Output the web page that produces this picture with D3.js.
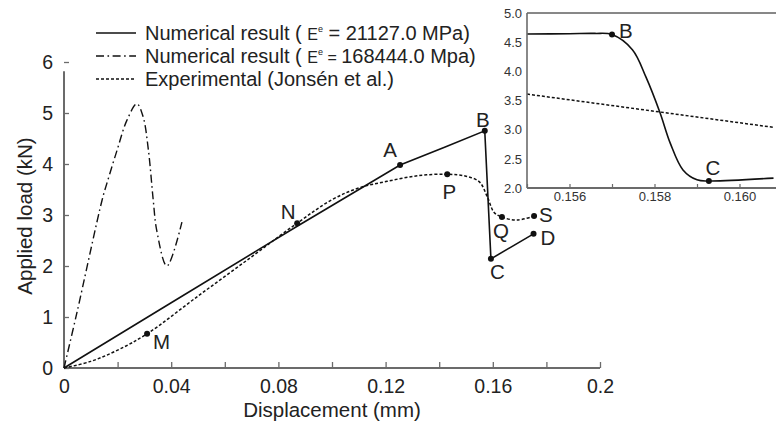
<!DOCTYPE html>
<html>
<head>
<meta charset="utf-8">
<script src="https://cdn.jsdelivr.net/npm/d3@7"></script>
<style>
  html, body { margin: 0; padding: 0; background: #fff; }
  svg { display: block; font-family: "Liberation Sans", Arial, sans-serif; }
</style>
</head>
<body>
<svg id="chart" width="776" height="430"></svg>
<script>
// ---- data: load (kN) vs displacement (mm) ----
// Numerical result, E^e = 21127.0 MPa
const solidX = [0, 0.04, 0.087, 0.1254, 0.142, 0.157, 0.1593, 0.1752];
const solidY = [0, 1.28, 2.78, 3.98, 4.33, 4.65, 2.14, 2.63];

// Numerical result, E^e = 168444.0 MPa
const stiffX = [0, 0.0048, 0.0142, 0.016, 0.0198, 0.0235, 0.0272, 0.0295, 0.0315, 0.0333, 0.0346, 0.0384, 0.044];
const stiffY = [0, 1.08, 3.29, 3.62, 4.27, 4.86, 5.18, 4.93, 4.27, 3.29, 2.7, 2.0, 2.86];

// Experimental (Jonsén et al.)
const expX = [0, 0.01, 0.02, 0.031, 0.05, 0.07, 0.087, 0.1, 0.11, 0.1205, 0.132, 0.143, 0.15, 0.155, 0.158, 0.1605, 0.1634, 0.169, 0.1754];
const expY = [0, 0.13, 0.35, 0.67, 1.41, 2.18, 2.84, 3.3, 3.53, 3.66, 3.77, 3.8, 3.76, 3.65, 3.35, 3.05, 2.96, 2.9, 2.98];

// Marked points on the curves
const markNames = ["M", "N", "P", "Q", "S", "A", "B", "C", "D"];
const markX = [0.031, 0.087, 0.143, 0.1634, 0.1754, 0.1254, 0.157, 0.1593, 0.1752];
const markY = [0.67, 2.84, 3.8, 2.96, 2.98, 3.98, 4.65, 2.14, 2.63];

// Axis ticks
const xTickValues = [0, 0.02, 0.04, 0.06, 0.08, 0.1, 0.12, 0.14, 0.16, 0.18, 0.2];
const xTickLabels = ["0", "", "0.04", "", "0.08", "", "0.12", "", "0.16", "", "0.2"];
const yTickValues = [0, 1, 2, 3, 4, 5, 6];

// Inset: detail of the drop between B and C
const insetSolidX = [0.155, 0.156, 0.1566, 0.157, 0.15748, 0.1578, 0.15813, 0.15837, 0.15867, 0.159, 0.15928, 0.1608];
const insetSolidY = [4.64, 4.645, 4.65, 4.63, 4.37, 3.9, 3.29, 2.77, 2.31, 2.14, 2.12, 2.17];
const insetExpX = [0.155, 0.1608];
const insetExpY = [3.61, 3.04];
const insetMarkNames = ["B", "C"];
const insetMarkX = [0.157, 0.15928];
const insetMarkY = [4.63, 2.12];
const insetXTicks = [0.155, 0.156, 0.157, 0.158, 0.159, 0.16, 0.161];
const insetXLabels = { "0.156": "0.156", "0.158": "0.158", "0.16": "0.160" };
const insetYTicks = [2.0, 2.5, 3.0, 3.5, 4.0, 4.5, 5.0];

// ---- drawing ----
const svg = d3.select("#chart");
const axisColor = "#6b6b6b";
const textColor = "#222";
const labelSize = 19.5;
const titleSize = 20.5;
const legendSize = 20;

const x = d3.scaleLinear().domain([0, 0.2]).range([64, 600]);
const y = d3.scaleLinear().domain([0, 6]).range([368, 62]);

const zip = (xs, ys) => xs.map((v, i) => [v, ys[i]]);

// x axis
const xAxis = d3.axisBottom(x).tickValues(xTickValues).tickSize(-6).tickPadding(11)
  .tickFormat((d, i) => xTickLabels[i]);
const gx = svg.append("g").attr("transform", `translate(0,${y(0)})`).call(xAxis);
gx.select(".domain").remove();
gx.append("line").attr("x1", x(0)).attr("x2", x(0.2)).attr("y1", 0).attr("y2", 0)
  .attr("stroke", axisColor).attr("stroke-width", 2);
gx.selectAll(".tick line").attr("stroke", axisColor).attr("stroke-width", 1.3);
gx.selectAll(".tick text").attr("fill", textColor).attr("font-size", labelSize).attr("dy", "0.71em");

// y axis
const yAxis = d3.axisLeft(y).tickValues(yTickValues).tickSize(-5).tickPadding(11)
  .tickFormat(d3.format("d"));
const gy = svg.append("g").attr("transform", `translate(${x(0)},0)`).call(yAxis);
gy.select(".domain").remove();
gy.append("line").attr("x1", 0).attr("x2", 0).attr("y1", y(0)).attr("y2", y(5.82))
  .attr("stroke", axisColor).attr("stroke-width", 2);
gy.selectAll(".tick line").attr("stroke", axisColor).attr("stroke-width", 1.3);
gy.selectAll(".tick text").attr("fill", textColor).attr("font-size", labelSize);

// axis titles
svg.append("text").attr("x", 332).attr("y", 417).attr("text-anchor", "middle")
  .attr("font-size", titleSize).attr("fill", textColor).text("Displacement (mm)");
svg.append("text").attr("transform", "translate(32,216) rotate(-90)").attr("text-anchor", "middle")
  .attr("font-size", titleSize).attr("fill", textColor).text("Applied load (kN)");

// curves
const line = d3.line().x(d => x(d[0])).y(d => y(d[1]));
svg.append("path").datum(zip(stiffX, stiffY))
  .attr("d", line.curve(d3.curveCatmullRom.alpha(0.5)))
  .attr("fill", "none").attr("stroke", "#111").attr("stroke-width", 1.4)
  .attr("stroke-dasharray", "8,3.5,1.6,3.5");
svg.append("path").datum(zip(expX, expY))
  .attr("d", line.curve(d3.curveCatmullRom.alpha(0.5)))
  .attr("fill", "none").attr("stroke", "#111").attr("stroke-width", 1.5)
  .attr("stroke-dasharray", "3,2");
svg.append("path").datum(zip(solidX, solidY))
  .attr("d", line.curve(d3.curveLinear))
  .attr("fill", "none").attr("stroke", "#111").attr("stroke-width", 1.6);

// marked points and their letters
const markOffsets = {
  M: [6, 15, "start"], N: [-9, -4, "middle"], P: [2, 25, "middle"], Q: [-1, 21, "middle"],
  S: [5, 6, "start"], A: [-10, -8, "middle"], B: [-2, -4, "middle"], C: [-1, 20, "start"], D: [7, 11, "start"]
};
const marks = markNames.map((n, i) => ({ n, v: [markX[i], markY[i]] }));
svg.append("g").selectAll("circle").data(marks).join("circle")
  .attr("cx", d => x(d.v[0])).attr("cy", d => y(d.v[1])).attr("r", 3).attr("fill", "#111");
svg.append("g").selectAll("text").data(marks).join("text")
  .attr("x", d => x(d.v[0]) + markOffsets[d.n][0])
  .attr("y", d => y(d.v[1]) + markOffsets[d.n][1])
  .attr("text-anchor", d => markOffsets[d.n][2])
  .attr("font-size", titleSize).attr("fill", textColor).text(d => d.n);

// legend
const legend = svg.append("g").attr("font-size", legendSize).attr("fill", textColor);
const legendRows = [
  { dash: null, pre: "Numerical result ( ", eq: " = ", val: "21127.0 MPa)" },
  { dash: "8,3.5,1.6,3.5", pre: "Numerical result ( ", eq: " = ", val: "168444.0 Mpa)" },
  { dash: "3,2", pre: "Experimental (Jonsén et al.)", eq: null, val: null }
];
legendRows.forEach((r, i) => {
  const ly = 33 + i * 23;
  legend.append("line").attr("x1", 96).attr("x2", 136).attr("y1", ly).attr("y2", ly)
    .attr("stroke", "#111").attr("stroke-width", 1.5).attr("stroke-dasharray", r.dash);
  const t = legend.append("text").attr("x", 145).attr("y", ly + 7);
  t.append("tspan").text(r.pre);
  if (r.val !== null) {
    t.append("tspan").attr("font-size", 16).text("E");
    t.append("tspan").attr("font-size", 9).attr("dy", -8).text("e");
    t.append("tspan").attr("dy", 8).attr("font-size", i === 1 ? 16 : legendSize).text(r.eq);
    t.append("tspan").text(r.val);
  }
});

// ---- inset ----
const ix = d3.scaleLinear().domain([0.155, 0.161]).range([527, 782]);
const iy = d3.scaleLinear().domain([2, 5]).range([188, 13]);
const inset = svg.append("g");
inset.append("rect").attr("x", 527).attr("y", 13).attr("width", 255).attr("height", 175).attr("fill", "#fff");
svg.append("clipPath").attr("id", "inset-clip")
  .append("rect").attr("x", 527).attr("y", 13).attr("width", 255).attr("height", 175);

const iline = d3.line().x(d => ix(d[0])).y(d => iy(d[1]));
const plot = inset.append("g").attr("clip-path", "url(#inset-clip)");
plot.append("path").datum(zip(insetExpX, insetExpY)).attr("d", iline)
  .attr("fill", "none").attr("stroke", "#111").attr("stroke-width", 1.5).attr("stroke-dasharray", "3,2");
plot.append("path").datum(zip(insetSolidX, insetSolidY))
  .attr("d", iline.curve(d3.curveCatmullRom.alpha(0.5)))
  .attr("fill", "none").attr("stroke", "#111").attr("stroke-width", 1.6);

// frame: top border, left and bottom axes
inset.append("line").attr("x1", 527).attr("x2", 782).attr("y1", 13).attr("y2", 13)
  .attr("stroke", "#111").attr("stroke-width", 1);
const igx = inset.append("g").attr("transform", "translate(0,188)")
  .call(d3.axisBottom(ix).tickValues(insetXTicks).tickSize(-4).tickPadding(4)
    .tickFormat(d => insetXLabels[String(+d.toFixed(3))] || ""));
igx.select(".domain").remove();
igx.append("line").attr("x1", 527).attr("x2", 782).attr("stroke", axisColor).attr("stroke-width", 2);
igx.selectAll(".tick line").attr("stroke", axisColor).attr("stroke-width", 1.2);
igx.selectAll(".tick text").attr("fill", "#333").attr("font-size", 13);

const igy = inset.append("g").attr("transform", "translate(527,0)")
  .call(d3.axisLeft(iy).tickValues(insetYTicks).tickSize(0).tickPadding(5).tickFormat(d3.format(".1f")));
igy.select(".domain").remove();
igy.append("line").attr("y1", 13).attr("y2", 188).attr("stroke", axisColor).attr("stroke-width", 1.6);
igy.selectAll(".tick text").attr("fill", "#333").attr("font-size", 13);

const insetMarks = insetMarkNames.map((n, i) => ({ n, v: [insetMarkX[i], insetMarkY[i]] }));
const insetOffsets = { B: [7, 3, "start"], C: [4, -6, "middle"] };
inset.append("g").selectAll("circle").data(insetMarks).join("circle")
  .attr("cx", d => ix(d.v[0])).attr("cy", d => iy(d.v[1])).attr("r", 3).attr("fill", "#111");
inset.append("g").selectAll("text").data(insetMarks).join("text")
  .attr("x", d => ix(d.v[0]) + insetOffsets[d.n][0])
  .attr("y", d => iy(d.v[1]) + insetOffsets[d.n][1])
  .attr("text-anchor", d => insetOffsets[d.n][2])
  .attr("font-size", titleSize).attr("fill", textColor).text(d => d.n);
</script>
</body>
</html>
